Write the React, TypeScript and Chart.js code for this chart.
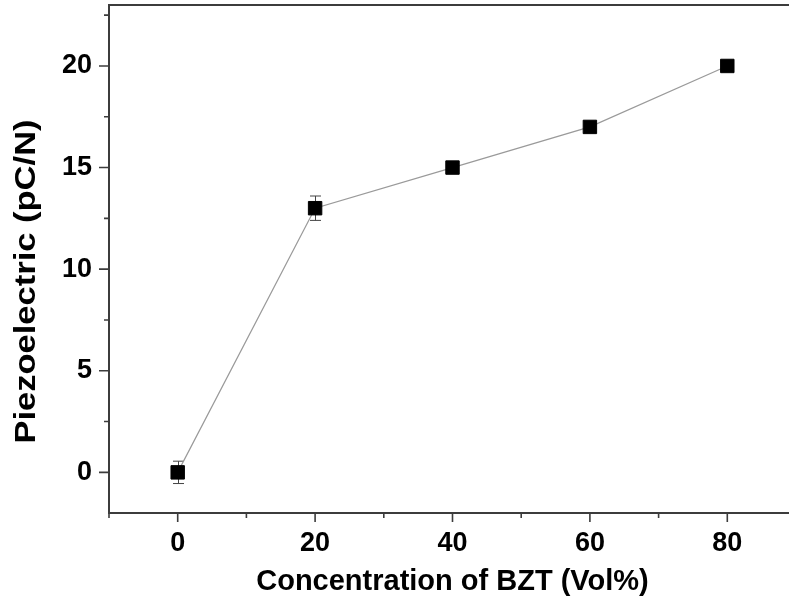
import React, { useEffect, useRef } from "react";
import { Chart, registerables } from "chart.js";

Chart.register(...registerables);

const concentration = [0, 20, 40, 60, 80];
const piezo = [0, 13, 15, 17, 20];
const piezoErr = [0.55, 0.6, 0.2, 0.2, 0.2];
const xMajorTicks = [0, 20, 40, 60, 80];
const xMinorTicks = [-10, 10, 30, 50, 70];
const yMajorTicks = [0, 5, 10, 15, 20];
const yMinorTicks = [2.5, 7.5, 12.5, 17.5, 22.5];
const xTitle = "Concentration of BZT (Vol%)";
const yTitle = "Piezoelectric (pC/N)";

const FONT = '"Liberation Sans", Arial, Helvetica, sans-serif';
const AXIS_COLOR = "#3c3c3c";

const framePlugin = {
  id: "frameAndErrors",
  beforeDatasetsDraw(chart: any) {
    const ctx = chart.ctx;
    const xs = chart.scales.x;
    const ys = chart.scales.y;
    ctx.save();
    ctx.strokeStyle = "#444";
    ctx.lineWidth = 1;
    concentration.forEach((c, i) => {
      const e = piezoErr[i];
      if (!e) return;
      const px = Math.round(xs.getPixelForValue(c)) + 0.5;
      const yTop = ys.getPixelForValue(piezo[i] + e);
      const yBot = ys.getPixelForValue(piezo[i] - e);
      ctx.beginPath();
      ctx.moveTo(px, yTop);
      ctx.lineTo(px, yBot);
      ctx.moveTo(px - 5.5, yTop);
      ctx.lineTo(px + 5.5, yTop);
      ctx.moveTo(px - 5.5, yBot);
      ctx.lineTo(px + 5.5, yBot);
      ctx.stroke();
    });
    ctx.restore();
  },
  afterDraw(chart: any) {
    const ctx = chart.ctx;
    const { left, right, top, bottom } = chart.chartArea;
    const xs = chart.scales.x;
    const ys = chart.scales.y;
    ctx.save();
    ctx.strokeStyle = AXIS_COLOR;
    ctx.lineWidth = 2;
    ctx.beginPath();
    ctx.moveTo(left, top);
    ctx.lineTo(left, bottom);
    ctx.moveTo(left - 1, bottom);
    ctx.lineTo(right, bottom);
    ctx.moveTo(left - 1, top);
    ctx.lineTo(right, top);
    ctx.stroke();

    ctx.lineWidth = 1.6;
    ctx.beginPath();
    xMajorTicks.forEach((v) => {
      const p = xs.getPixelForValue(v);
      ctx.moveTo(p, bottom);
      ctx.lineTo(p, bottom + 9);
    });
    xMinorTicks.forEach((v) => {
      const p = xs.getPixelForValue(v);
      ctx.moveTo(p, bottom);
      ctx.lineTo(p, bottom + 5);
    });
    yMajorTicks.forEach((v) => {
      const p = ys.getPixelForValue(v);
      ctx.moveTo(left, p);
      ctx.lineTo(left - 10, p);
    });
    yMinorTicks.forEach((v) => {
      const p = ys.getPixelForValue(v);
      ctx.moveTo(left, p);
      ctx.lineTo(left - 5, p);
    });
    ctx.stroke();

    ctx.fillStyle = "#000";
    ctx.font = `bold 29px ${FONT}`;
    ctx.textAlign = "center";
    ctx.textBaseline = "alphabetic";
    ctx.translate(35, 281.5);
    ctx.rotate(-Math.PI / 2);
    ctx.scale(1.19, 1);
    ctx.fillText(yTitle, 0, 0);
    ctx.restore();
  },
};

export default function App() {
  const canvasRef = useRef<HTMLCanvasElement | null>(null);

  useEffect(() => {
    if (!canvasRef.current) return;
    const chart = new Chart(canvasRef.current, {
      type: "line",
      data: {
        datasets: [
          {
            data: concentration.map((c, i) => ({ x: c, y: piezo[i] })),
            borderColor: "#9a9a9a",
            borderWidth: 1.2,
            pointStyle: "rect",
            pointRadius: 9.5,
            pointBackgroundColor: "#000",
            pointBorderColor: "#000",
            pointBorderWidth: 1,
            tension: 0,
            fill: false,
          },
        ],
      },
      options: {
        animation: false,
        responsive: false,
        devicePixelRatio: 1,
        layout: { autoPadding: false, padding: { top: 5, right: 4, left: 0, bottom: 0 } },
        plugins: {
          legend: { display: false },
          tooltip: { enabled: false },
        },
        scales: {
          x: {
            type: "linear",
            min: -10,
            max: 90,
            afterBuildTicks: (s: any) => {
              s.ticks = xMajorTicks.map((v) => ({ value: v }));
            },
            afterFit: (s: any) => {
              s.height = 88;
              s.paddingLeft = 0;
              s.paddingRight = 0;
            },
            grid: { display: true, drawOnChartArea: false, drawTicks: false },
            border: { display: false },
            ticks: {
              color: "#000",
              font: { family: FONT, size: 27, weight: "bold" },
              padding: 14,
              maxRotation: 0,
            },
            title: {
              display: true,
              text: xTitle,
              color: "#000",
              font: { family: FONT, size: 29, weight: "bold" },
              padding: { top: 0, bottom: 2 },
            },
          },
          y: {
            type: "linear",
            min: -2,
            max: 23,
            afterBuildTicks: (s: any) => {
              s.ticks = yMajorTicks.map((v) => ({ value: v }));
            },
            afterFit: (s: any) => {
              s.width = 109;
              s.paddingTop = 0;
              s.paddingBottom = 0;
            },
            grid: { display: true, drawOnChartArea: false, drawTicks: false },
            border: { display: false },
            ticks: {
              color: "#000",
              font: { family: FONT, size: 27, weight: "bold" },
              padding: 17,
            },
          },
        },
      },
      plugins: [framePlugin],
    } as any);
    return () => chart.destroy();
  }, []);

  return (
    <div
      style={{
        position: "absolute",
        left: 0,
        top: 0,
        width: 789,
        height: 601,
        overflow: "hidden",
        background: "#fff",
      }}
    >
      <canvas ref={canvasRef} width={800} height={601} style={{ display: "block" }} />
    </div>
  );
}
